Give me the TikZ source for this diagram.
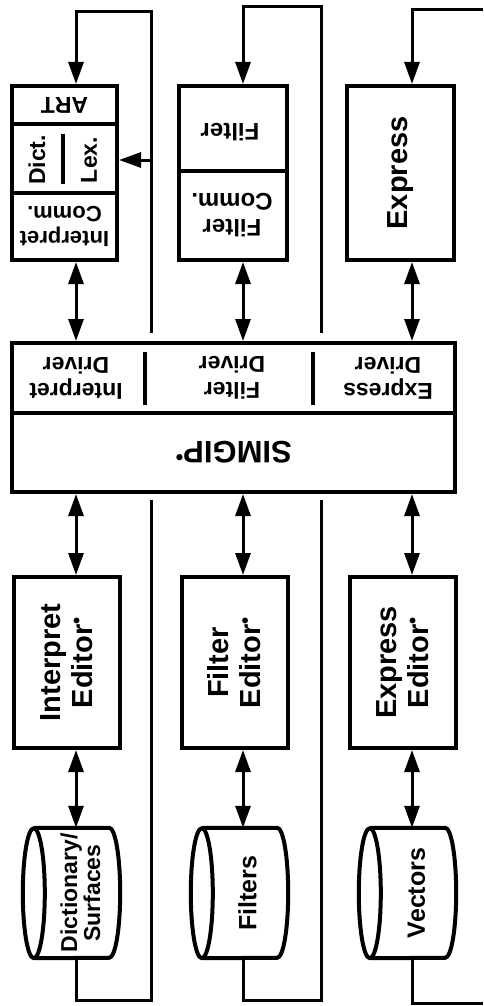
\documentclass[tikz,border=0pt]{standalone}
\usepackage{fontspec}
\setmainfont{Liberation Sans}
\usetikzlibrary{arrows.meta}
\newcommand{\topdot}{\textsuperscript{\textbullet}}

\begin{document}
\begin{tikzpicture}[
    x=1pt, y=-1pt,
    node distance=168pt,
    box/.style={rectangle, draw, line width=4pt, inner sep=0pt},
    drum/.style={rectangle, inner sep=0pt, minimum width=97pt, minimum height=130pt},
    split/.style={line width=3.4pt},
    bigtxt/.style={inner sep=0pt, align=center, font=\fontsize{29}{32}\selectfont\bfseries},
    midtxt/.style={inner sep=0pt, align=center, font=\fontsize{23}{26}\selectfont\bfseries},
    >={Triangle[length=22pt, width=15pt]},
    arrow/.style={->, line width=3pt},
    dblarrow/.style={<->, line width=3pt},
    wire/.style={line width=3pt}
]
    \useasboundingbox (0,0) rectangle (483,1006);

    % Column axes and return lines
    \coordinate (ax1) at (76,0);
    \coordinate (ax2) at (243,0);
    \coordinate (ax3) at (412,0);
    \coordinate (r1top) at (151,12);
    \coordinate (r1up) at (151,333);
    \coordinate (r1low) at (151,500);
    \coordinate (r1bot) at (151,1000);
    \coordinate (r2top) at (321,7);
    \coordinate (r2up) at (321,333);
    \coordinate (r2low) at (321,500);
    \coordinate (r2bot) at (321,1000);
    \coordinate (r3top) at (483,10);
    \coordinate (r3bot) at (483,1003);

    % Top boxes
    \node[box, minimum width=105pt, minimum height=174pt] (top1) at (64.5,173) {};
    \node[box, minimum width=108pt, minimum height=174pt, right of=top1] (top2) {};
    \node[box, minimum width=107pt, minimum height=174pt, right of=top2] (top3) {};
    \draw[split] (12,124) -- (117,124);
    \draw[split] (12,193) -- (117,193);
    \draw[split] (63,134) -- (63,184);
    \draw[split] (178,171) -- (286,171);
    \node[midtxt, rotate=180] (art) at (64.5,105) {ART};
    \node[midtxt, rotate=90] (dict) at (37,160) {Dict.};
    \node[midtxt, rotate=90] (lex) at (89,160) {Lex.};
    \node[midtxt, rotate=180, font=\fontsize{22}{25}\selectfont\bfseries] (icomm) at (64.5,226) {Interpret\\Comm.};
    \node[midtxt, rotate=180, font=\fontsize{24}{26}\selectfont\bfseries] (filt) at (230,132) {Filter};
    \node[midtxt, rotate=180, font=\fontsize{24}{26}\selectfont\bfseries] (fcomm) at (232,215) {Filter\\Comm.};
    \node[bigtxt, rotate=90] (expr) at (top3) {Express};

    % Drivers and SIMGIP
    \node[box, minimum width=443pt, minimum height=70pt] (drv) at (233.5,378) {};
    \node[box, minimum width=443pt, minimum height=79pt] (sim) at (233.5,452.5) {};
    \draw[split] (145,352) -- (145,405);
    \draw[split] (313,352) -- (313,405);
    \node[midtxt, rotate=180] (idrv) at (76,378) {Interpret\\Driver};
    \node[midtxt, rotate=180] (fdrv) at (232,378) {Filter\\Driver};
    \node[midtxt, rotate=180] (edrv) at (388,378) {Express\\Driver};
    \node[bigtxt, rotate=180, font=\fontsize{31}{34}\selectfont\bfseries] (simtxt) at (sim) {SIMGIP\topdot};

    % Editors
    \node[box, minimum width=106pt, minimum height=171pt] (ed1) at (66.5,662.5) {};
    \node[box, minimum width=106pt, minimum height=171pt, right of=ed1] (ed2) {};
    \node[box, minimum width=106pt, minimum height=171pt, right of=ed2] (ed3) {};
    \node[bigtxt, rotate=90] (ed1t) at (ed1) {Interpret\\Editor\topdot};
    \node[bigtxt, rotate=90] (ed2t) at (ed2) {Filter\\Editor\topdot};
    \node[bigtxt, rotate=90] (ed3t) at (ed3) {Express\\Editor\topdot};

    % Stores (drums lying on their side)
    \node[drum] (cyl1) at (71.5,893) {};
    \node[drum, right of=cyl1] (cyl2) {};
    \node[drum, right of=cyl2] (cyl3) {};
    \foreach \c in {cyl1,cyl2,cyl3}
        \draw[line width=4pt, line join=round]
            ([xshift=11pt]\c.north west) -- ([xshift=-11pt]\c.north east)
            arc[start angle=90, end angle=-90, x radius=11pt, y radius=65pt]
            -- ([xshift=11pt]\c.south west)
            arc[start angle=270, end angle=90, x radius=11pt, y radius=65pt]
            arc[start angle=90, end angle=-90, x radius=11pt, y radius=65pt];
    \node[midtxt, rotate=90, font=\fontsize{23}{23}\selectfont\bfseries] (cyl1t) at ([xshift=9pt]cyl1.center) {Dictionary/\\Surfaces};
    \node[midtxt, rotate=90, font=\fontsize{25}{27}\selectfont\bfseries] (cyl2t) at ([xshift=8pt]cyl2.center) {Filters};
    \node[midtxt, rotate=90, font=\fontsize{25}{27}\selectfont\bfseries] (cyl3t) at ([xshift=9pt]cyl3.center) {Vectors};

    % Flow arrows
    \draw[dblarrow] (top1.south -| ax1) -- (drv.north -| ax1);
    \draw[dblarrow] (top2.south -| ax2) -- (drv.north -| ax2);
    \draw[dblarrow] (top3.south -| ax3) -- (drv.north -| ax3);
    \draw[dblarrow] (sim.south -| ax1) -- (ed1.north -| ax1);
    \draw[dblarrow] (sim.south -| ax2) -- (ed2.north -| ax2);
    \draw[dblarrow] (sim.south -| ax3) -- (ed3.north -| ax3);
    \draw[dblarrow] (ed1.south -| ax1) -- (cyl1.north -| ax1);
    \draw[dblarrow] (ed2.south -| ax2) -- (cyl2.north -| ax2);
    \draw[dblarrow] (ed3.south -| ax3) -- (cyl3.north -| ax3);
    \draw[arrow] (r1up |- lex) -- (top1.east |- lex);

    % Return lines
    \draw[wire] (cyl1.south -| ax1) |- (r1bot) -- (r1low);
    \draw[wire] (cyl2.south -| ax2) |- (r2bot) -- (r2low);
    \draw[wire] (cyl3.south -| ax3) |- (r3bot);
    \draw[arrow] (r1up) -- (r1top) -| (top1.north -| ax1);
    \draw[arrow] (r2up) -- (r2top) -| (top2.north -| ax2);
    \draw[arrow] (r3top) -| (top3.north -| ax3);
\end{tikzpicture}
\end{document}
